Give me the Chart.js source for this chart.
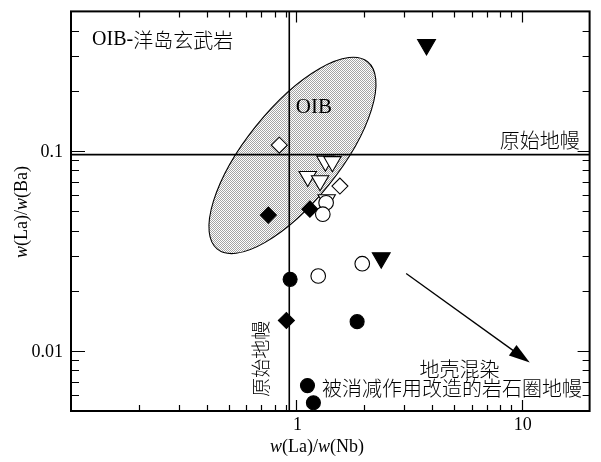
<!DOCTYPE html>
<html>
<head>
<meta charset="utf-8">
<script src="https://cdn.jsdelivr.net/npm/chart.js@4/dist/chart.umd.min.js"></script>
<style>
  html, body { margin: 0; padding: 0; background: #fff; }
  #wrap { width: 601px; height: 462px; }
</style>
</head>
<body>
<div id="wrap"><canvas id="c" width="601" height="462"></canvas></div>
<script>
// w(La)/w(Nb) versus w(La)/w(Ba), one array per sample group
const filledCircles   = [{x: 0.938, y: 0.0228}, {x: 1.86, y: 0.0140}, {x: 1.12, y: 0.0067}, {x: 1.19, y: 0.0055}];
const openCircles     = [{x: 1.355, y: 0.0551}, {x: 1.31, y: 0.0483}, {x: 1.25, y: 0.0237}, {x: 1.96, y: 0.0273}];
const filledDiamonds  = [{x: 0.751, y: 0.0478}, {x: 1.148, y: 0.0512}, {x: 0.903, y: 0.0142}];
const openDiamonds    = [{x: 0.84, y: 0.107}, {x: 1.56, y: 0.0668}];
const openTriangles   = [{x: 1.345, y: 0.0890}, {x: 1.445, y: 0.0885}, {x: 1.123, y: 0.0746}, {x: 1.274, y: 0.0710}, {x: 1.363, y: 0.0571}];
const filledTriangles = [{x: 3.78, y: 0.341}, {x: 2.38, y: 0.0292}];

// axis ranges and ticks
const xRange = [0.1, 20];
const yRange = [0.005, 0.5];
const xMajorTicks = [1, 10];
const xMinorTicks = [0.2, 0.3, 0.4, 0.5, 0.6, 0.7, 0.8, 0.9, 2, 3, 4, 5, 6, 7, 8, 9];
const yMajorTicks = [0.01, 0.1];
const yMinorTicks = [0.006, 0.007, 0.008, 0.009, 0.02, 0.03, 0.04, 0.05, 0.06, 0.07, 0.08, 0.09, 0.2, 0.3, 0.4];
const xTickLabels = ['1', '10'];
const yTickLabels = ['0.01', '0.1'];

// reference values
const primitiveMantleLaNb = 0.93;
const primitiveMantleLaBa = 0.096;
// OIB field: ends of the long axis (data units) and minor/major ratio
const oibTipLow  = [0.446, 0.0323];
const oibTipHigh = [2.07, 0.28];
const oibAxisRatio = 0.39;
// crustal contamination trend
const arrowFrom = [3.07, 0.0244];
const arrowTo   = [10.85, 0.00875];

const SERIF = '"Liberation Serif", "DejaVu Serif", serif';
const CJK = '"Noto Sans CJK SC", "Noto Sans", sans-serif';

// halftone fill for the OIB field
function halftone(ctx) {
  const p = document.createElement('canvas');
  p.width = 2; p.height = 2;
  const g = p.getContext('2d');
  g.fillStyle = '#ffffff'; g.fillRect(0, 0, 2, 2);
  g.fillStyle = '#a4a4a4'; g.fillRect(0, 0, 1, 1); g.fillRect(1, 1, 1, 1);
  return ctx.createPattern(p, 'repeat');
}

// draws a run of [text, font] pieces starting at x (baseline middle)
function drawRuns(ctx, runs, x, y, align) {
  let total = 0;
  runs.forEach(r => { ctx.font = r[1]; total += ctx.measureText(r[0]).width; });
  let cx = align === 'center' ? x - total / 2 : (align === 'right' ? x - total : x);
  ctx.textAlign = 'left';
  ctx.textBaseline = 'middle';
  runs.forEach(r => { ctx.font = r[1]; ctx.fillText(r[0], cx, y); cx += ctx.measureText(r[0]).width; });
}

const backdrop = {
  id: 'backdrop',
  beforeDatasetsDraw(chart) {
    const {ctx, chartArea: a, scales: {x, y}} = chart;
    ctx.save();
    ctx.beginPath(); ctx.rect(a.left, a.top, a.right - a.left, a.bottom - a.top); ctx.clip();

    // OIB field
    const ax = x.getPixelForValue(oibTipLow[0]), ay = y.getPixelForValue(oibTipLow[1]);
    const bx = x.getPixelForValue(oibTipHigh[0]), by = y.getPixelForValue(oibTipHigh[1]);
    const semi = Math.hypot(bx - ax, by - ay) / 2;
    ctx.beginPath();
    ctx.ellipse((ax + bx) / 2, (ay + by) / 2, semi, semi * oibAxisRatio, Math.atan2(by - ay, bx - ax), 0, Math.PI * 2);
    ctx.fillStyle = halftone(ctx);
    ctx.fill();
    ctx.lineWidth = 1.1; ctx.strokeStyle = '#000';
    ctx.stroke();

    // primitive mantle lines
    ctx.lineWidth = 1.6;
    const px = x.getPixelForValue(primitiveMantleLaNb);
    const py = y.getPixelForValue(primitiveMantleLaBa);
    ctx.beginPath();
    ctx.moveTo(px, a.top); ctx.lineTo(px, a.bottom);
    ctx.moveTo(a.left, py); ctx.lineTo(a.right, py);
    ctx.stroke();
    ctx.restore();
  },
  afterDraw(chart) {
    const {ctx, chartArea: a, scales: {x, y}} = chart;
    ctx.save();
    ctx.strokeStyle = '#000'; ctx.fillStyle = '#000';

    // trend arrow
    const sx = x.getPixelForValue(arrowFrom[0]), sy = y.getPixelForValue(arrowFrom[1]);
    const ex = x.getPixelForValue(arrowTo[0]), ey = y.getPixelForValue(arrowTo[1]);
    const ang = Math.atan2(ey - sy, ex - sx);
    const head = 21, half = 6.5;
    ctx.lineWidth = 1.3;
    ctx.beginPath(); ctx.moveTo(sx, sy);
    ctx.lineTo(ex - Math.cos(ang) * head * 0.8, ey - Math.sin(ang) * head * 0.8); ctx.stroke();
    ctx.beginPath();
    ctx.moveTo(ex, ey);
    ctx.lineTo(ex - Math.cos(ang) * head + Math.sin(ang) * half, ey - Math.sin(ang) * head - Math.cos(ang) * half);
    ctx.lineTo(ex - Math.cos(ang) * head - Math.sin(ang) * half, ey - Math.sin(ang) * head + Math.cos(ang) * half);
    ctx.closePath(); ctx.fill();

    // frame and inward ticks
    ctx.lineWidth = 2;
    ctx.strokeRect(a.left, a.top, a.right - a.left, a.bottom - a.top);
    ctx.lineWidth = 1.2;
    ctx.beginPath();
    const xt = (vals, len) => vals.forEach(v => {
      const p = Math.round(x.getPixelForValue(v)) + 0.5;
      ctx.moveTo(p, a.bottom); ctx.lineTo(p, a.bottom - len);
      ctx.moveTo(p, a.top); ctx.lineTo(p, a.top + len);
    });
    const yt = (vals, lenL, lenR) => vals.forEach(v => {
      const p = Math.round(y.getPixelForValue(v)) + 0.5;
      ctx.moveTo(a.left, p); ctx.lineTo(a.left + lenL, p);
      ctx.moveTo(a.right, p); ctx.lineTo(a.right - lenR, p);
    });
    xt(xMinorTicks, 6); xt(xMajorTicks, 11);
    yt(yMinorTicks, 8, 7); yt(yMajorTicks, 14, 12);
    ctx.stroke();

    // tick labels
    ctx.font = '18px ' + SERIF;
    ctx.textBaseline = 'middle';
    ctx.textAlign = 'center';
    xMajorTicks.forEach((v, i) => ctx.fillText(xTickLabels[i], x.getPixelForValue(v) + 1, a.bottom + 14));
    ctx.textAlign = 'right';
    yMajorTicks.forEach((v, i) => ctx.fillText(yTickLabels[i], a.left - 8, y.getPixelForValue(v) + 1));

    // axis titles
    const it = 'italic 18px ' + SERIF, rm = '18px ' + SERIF;
    drawRuns(ctx, [['w', it], ['(La)/', rm], ['w', it], ['(Nb)', rm]], 317, 447, 'center');
    ctx.save();
    ctx.translate(22, 212); ctx.rotate(-Math.PI / 2);
    drawRuns(ctx, [['w', it], ['(La)/', rm], ['w', it], ['(Ba)', rm]], 0, 0, 'center');
    ctx.restore();

    // field names
    const cjk = '300 20px ' + CJK;
    drawRuns(ctx, [['OIB-', '20px ' + SERIF], ['洋岛玄武岩', cjk]], x.getPixelForValue(0.124), y.getPixelForValue(0.359), 'left');
    drawRuns(ctx, [['OIB', '21px ' + SERIF]], x.getPixelForValue(1.196), y.getPixelForValue(0.166), 'center');
    drawRuns(ctx, [['原始地幔', cjk]], x.getPixelForValue(18.1), y.getPixelForValue(0.113), 'right');
    drawRuns(ctx, [['地壳混染', cjk]], x.getPixelForValue(5.3), y.getPixelForValue(0.00812), 'center');
    drawRuns(ctx, [['被消减作用改造的岩石圈地幔', cjk]], x.getPixelForValue(1.30), y.getPixelForValue(0.00647), 'left');
    ctx.save();
    ctx.translate(x.getPixelForValue(0.697), y.getPixelForValue(0.00913));
    ctx.rotate(-Math.PI / 2);
    drawRuns(ctx, [['原始地幔', '300 19px ' + CJK]], 0, 0, 'center');
    ctx.restore();
    ctx.restore();
  }
};

function group(data, style, radius, fill, rotation) {
  return {
    data, pointStyle: style, pointRadius: radius, pointRotation: rotation || 0,
    pointBackgroundColor: fill, pointBorderColor: '#000', pointBorderWidth: 1.1,
    showLine: false, clip: false
  };
}

new Chart(document.getElementById('c'), {
  type: 'scatter',
  data: {
    datasets: [
      group(filledCircles, 'circle', 7, '#000'),
      group(openCircles, 'circle', 7.3, '#fff'),
      group(filledDiamonds, 'rectRot', 8, '#000'),
      group(openDiamonds, 'rectRot', 8, '#fff'),
      group(openTriangles, 'triangle', 10, '#fff', 180),
      group(filledTriangles, 'triangle', 10.3, '#000', 180)
    ]
  },
  options: {
    responsive: false,
    animation: false,
    devicePixelRatio: 1,
    events: [],
    layout: { padding: { top: 6, right: 10, left: 0, bottom: 0 } },
    plugins: { legend: { display: false }, tooltip: { enabled: false } },
    scales: {
      x: {
        type: 'logarithmic', min: xRange[0], max: xRange[1],
        grid: { display: false }, border: { display: false }, ticks: { display: false },
        afterFit(s) { s.height = 51; }
      },
      y: {
        type: 'logarithmic', min: yRange[0], max: yRange[1],
        grid: { display: false }, border: { display: false }, ticks: { display: false },
        afterFit(s) { s.width = 71; }
      }
    }
  },
  plugins: [backdrop]
});
</script>
</body>
</html>
